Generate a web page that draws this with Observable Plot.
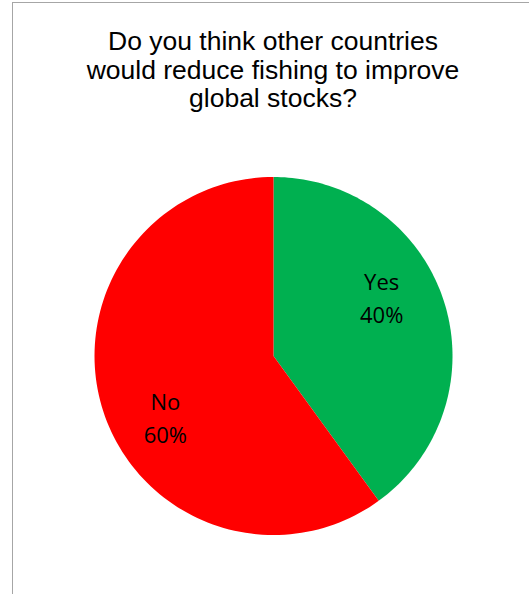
<!DOCTYPE html>
<html>
<head>
<meta charset="utf-8">
<script src="https://cdn.jsdelivr.net/npm/d3@7"></script>
<script src="https://cdn.jsdelivr.net/npm/@observablehq/plot@0.6"></script>
<style>
  html, body { margin: 0; padding: 0; background: #fff; }
  #frame { position: absolute; left: 12px; top: 2px; width: 600px; height: 700px; border: 1px solid #a6a6a6; box-sizing: border-box; }
  #title { position: absolute; left: 0; top: 27px; width: 546px; text-align: center; font-family: "Liberation Sans", Arial, sans-serif; font-size: 26.5px; line-height: 28.5px; color: #000; }
  #chart { position: absolute; left: 0; top: 130px; }
</style>
</head>
<body>
<div id="frame"></div>
<div id="title">Do you think other countries<br>would reduce fishing to improve<br>global stocks?</div>
<div id="chart"></div>
<script>
const categories = ["Yes", "No"];
const values = [40, 60];
const colors = ["#00B050", "#FF0000"];
const labels = ["Yes\n40%", "No\n60%"];

const pie = d3.pie().sort(null).value(d => d)(values);

// Slice outlines derived from the pie angles
const slicePts = [];
pie.forEach((a, i) => {
  const n = 120;
  slicePts.push({cat: categories[i], x: 0, y: 0});
  for (let k = 0; k <= n; k++) {
    const t = a.startAngle + (a.endAngle - a.startAngle) * k / n;
    slicePts.push({cat: categories[i], x: Math.sin(t), y: Math.cos(t)});
  }
  slicePts.push({cat: categories[i], x: 0, y: 0});
});

const labelPts = pie.map((a, i) => {
  const mid = (a.startAngle + a.endAngle) / 2 - 0.19;
  return {cat: categories[i], label: labels[i], x: 0.69 * Math.sin(mid), y: 0.69 * Math.cos(mid)};
});

const cx = 273, cy = 225.5, r = 179;
const chart = Plot.plot({
  width: 529,
  height: 464,
  margin: 0,
  x: {domain: [-1, 1], range: [cx - r, cx + r], axis: null},
  y: {domain: [-1, 1], range: [cy + r, cy - r], axis: null},
  color: {domain: categories, range: colors},
  marks: [
    Plot.line(slicePts, {x: "x", y: "y", z: "cat", fill: "cat", stroke: "none", curve: "linear"}),
    Plot.text(labelPts, {x: "x", y: "y", text: "label", fill: "#000", fontSize: 22, lineHeight: 1.5, fontFamily: "Open Sans", textAnchor: "middle"})
  ]
});
document.getElementById("chart").appendChild(chart);
</script>
</body>
</html>
